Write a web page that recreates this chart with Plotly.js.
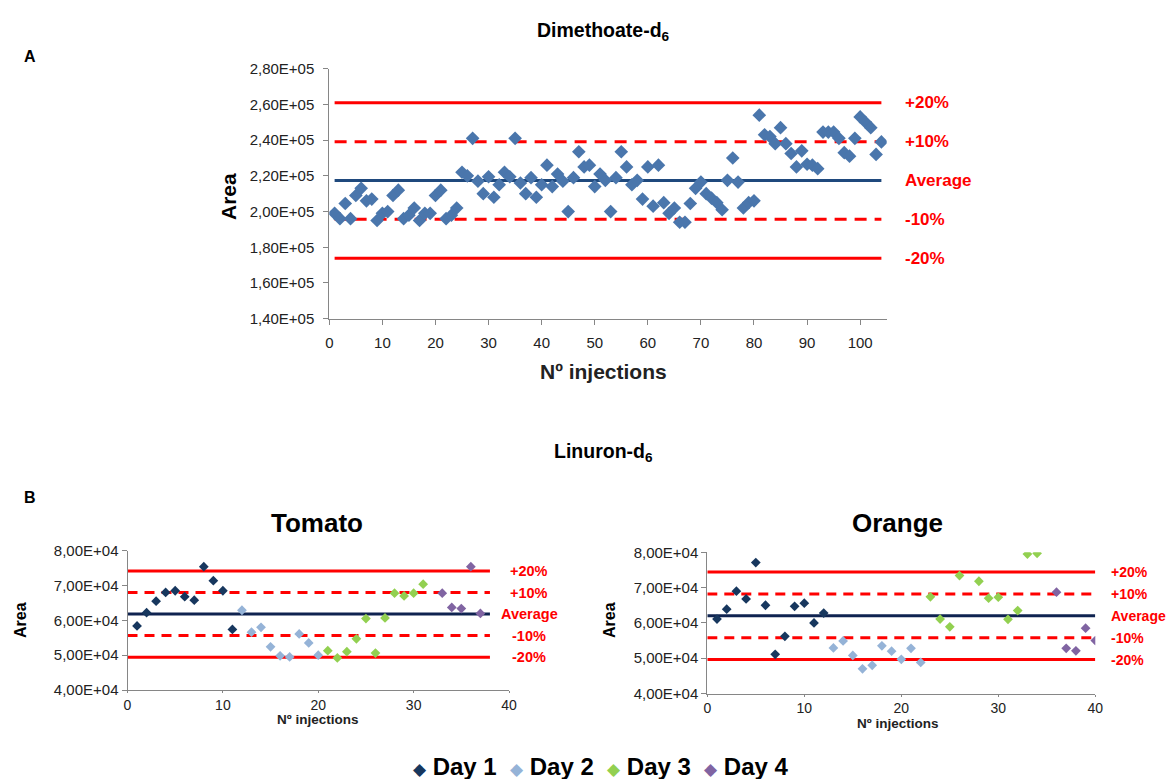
<!DOCTYPE html>
<html><head><meta charset="utf-8">
<script src="https://cdn.plot.ly/plotly-3.0.1.min.js"></script>
<style>html,body{margin:0;padding:0;background:#fff}</style>
</head><body><div id="chart" style="width:1169px;height:779px"></div>
<script>
// ---------- DATA ----------
// Panel A: Dimethoate-d6, area per injection (injections 1..104)
const dimArea = [
 199000,196000,204500,196000,209000,213000,206000,207000,195000,199000,
 200000,209000,212000,196000,198000,202000,195000,199000,199000,209000,
 212000,196000,198000,202000,222000,220000,241000,217000,210000,219500,
 208000,215000,222000,219500,241000,216000,210000,219000,208000,215000,
 226000,214000,221000,217000,200000,219000,233500,225000,226000,214000,
 221000,217500,200000,219000,233500,225000,215000,217500,207000,225000,
 203000,226000,205000,199000,202000,194000,194000,204500,213000,216500,
 210000,207500,205000,201000,217500,230000,216500,202000,205000,206000,
 254000,243000,242000,238000,247000,238000,232500,225000,234000,226500,
 226000,224000,244500,244500,244500,241000,233000,231000,241000,253000,
 250000,247000,232000,239000
];
const dimAverage = 217400;
const dimYTicks = [140000,160000,180000,200000,220000,240000,260000,280000];
const dimYTickText = ["1,40E+05","1,60E+05","1,80E+05","2,00E+05","2,20E+05","2,40E+05","2,60E+05","2,80E+05"];
const dimXTicks = [0,10,20,30,40,50,60,70,80,90,100];

// Limit lines (percent deviation from the average) and their labels
const limitPct = [20, 10, 0, -10, -20];
const limitLabels = ["+20%", "+10%", "Average", "-10%", "-20%"];

// Panel B: Linuron-d6
const days = ["Day 1", "Day 2", "Day 3", "Day 4"];
const dayColors = ["#17375E", "#95B3D7", "#92D050", "#8064A2"];

const tomatoX = [
  [1,2,3,4,5,6,7,8,9,10,11],
  [12,13,14,15,16,17,18,19,20],
  [21,22,23,24,25,26,27,28,29,30,31],
  [33,34,35,36,37]
];
const tomatoY = [
  [58400,62200,65500,68000,68500,66800,65800,75400,71400,68500,57400],
  [62900,56600,58000,52400,49800,49500,56100,53500,50000],
  [51300,49200,51000,54700,60500,50600,60700,67800,67000,67800,70400],
  [67800,63700,63400,75400,62000]
];
const tomatoAverage = 61800;

const orangeX = [
  [1,2,3,4,5,6,7,8,9,10,11,12],
  [13,14,15,16,17,18,19,20,21,22],
  [23,24,25,26,28,29,30,31,32,33,34],
  [36,37,38,39,40]
];
const orangeY = [
  [61100,63900,69000,66800,77100,65000,51100,56200,64700,65600,60000,62800],
  [52900,54900,50800,47000,48000,53500,52000,49700,52800,48800],
  [67400,61100,58900,73400,71800,67000,67300,61000,63500,79500,79700],
  [68700,52800,52100,58500,55000]
];
const orangeAverage = 62000;

const linYTicks = [40000,50000,60000,70000,80000];
const linYTickText = ["4,00E+04","5,00E+04","6,00E+04","7,00E+04","8,00E+04"];
const linXTicks = [0,10,20,30,40];

// ---------- LAYOUT HELPERS ----------
const W = 1169, H = 779;
const fx = p => p / W;
const fy = p => 1 - p / H;
const FONT = "Liberation Sans, Arial, sans-serif";
const RED = "#FF0000";
const AXC = "#868686";

const traces = [];
const annotations = [];

function limitLines(avg, x0, x1, xa, ya, avgColor, width, dash) {
  limitPct.forEach(p => {
    const v = avg * (1 + p / 100);
    traces.push({
      x: [x0, x1], y: [v, v], xaxis: xa, yaxis: ya, mode: "lines",
      line: {color: p === 0 ? avgColor : RED, width: width,
             dash: (Math.abs(p) === 10) ? dash : "solid"},
      hoverinfo: "skip", showlegend: false
    });
  });
}
function limitAnnots(avg, xPix, anchor, yr, size) {
  limitPct.forEach((p, i) => {
    annotations.push({
      xref: "paper", yref: yr, x: fx(xPix), y: avg * (1 + p / 100),
      xanchor: anchor, yanchor: "middle", showarrow: false,
      text: "<b>" + limitLabels[i] + "</b>",
      font: {family: FONT, size: size, color: RED}
    });
  });
}

// Panel A
limitLines(dimAverage, 1, 104, "x", "y", "#1F497D", 3, "12px,8px");
traces.push({
  x: dimArea.map((_, i) => i + 1), y: dimArea, xaxis: "x", yaxis: "y",
  mode: "markers", type: "scatter",
  marker: {symbol: "diamond", size: 10.5, color: "#4A76AC"},
  showlegend: false, name: "Dimethoate-d6"
});
limitAnnots(dimAverage, 903, "left", "y", 17);

// Panel B tomato
limitLines(tomatoAverage, 0, 38, "x2", "y2", "#0F2350", 3, "10px,7px");
days.forEach((d, k) => traces.push({
  x: tomatoX[k], y: tomatoY[k], xaxis: "x2", yaxis: "y2", mode: "markers",
  marker: {symbol: "diamond", size: 7.5, color: dayColors[k]},
  name: d, showlegend: false
}));
limitAnnots(tomatoAverage, 529, "center", "y2", 14.5);

// Panel B orange
limitLines(orangeAverage, 0, 40, "x3", "y3", "#0F2350", 3, "10px,7px");
days.forEach((d, k) => traces.push({
  x: orangeX[k], y: orangeY[k], xaxis: "x3", yaxis: "y3", mode: "markers",
  marker: {symbol: "diamond", size: 7.5, color: dayColors[k]},
  name: d, showlegend: false
}));
limitAnnots(orangeAverage, 1109, "left", "y3", 14);

// Titles & labels
function txt(x, y, text, size, angle, color) {
  annotations.push({xref: "paper", yref: "paper", x: fx(x), y: fy(y),
    xanchor: "center", yanchor: "middle", showarrow: false, textangle: angle || 0,
    text: text, font: {family: FONT, size: size, color: color || "#000"}});
}
txt(603, 31, "<b>Dimethoate-d<sub>6</sub></b>", 19.5);
txt(30, 57, "<b>A</b>", 16);
txt(603, 453, "<b>Linuron-d<sub>6</sub></b>", 19.5);
txt(30, 497, "<b>B</b>", 16);
txt(317, 523, "<b>Tomato</b>", 26);
txt(897, 523, "<b>Orange</b>", 26);

// Axis titles
txt(229, 197, "<b>Area</b>", 21, -90);
txt(603, 371, "<b>Nº injections</b>", 21, 0, "#222");
txt(20, 620, "<b>Area</b>", 16, -90);
txt(317, 719, "<b>Nº injections</b>", 13.5, 0, "#222");
txt(609, 620, "<b>Area</b>", 16, -90);
txt(897, 723, "<b>Nº injections</b>", 13.5, 0, "#222");

// Legend (shared by both Linuron panels)
const legendText = days.map((d, k) =>
  '<span style="color:' + dayColors[k] + ';font-size:17px">◆</span>&nbsp;<b>' + d + '</b>').join("&nbsp;&nbsp;");
txt(601, 766, legendText, 24);

function xAxis(domain, range, ticks, anchor, ticklen, standoff, fsize) {
  return {domain: domain, range: range, anchor: anchor, tickvals: ticks,
    showline: true, linecolor: AXC, linewidth: 1, ticks: "outside", ticklen: ticklen,
    tickcolor: AXC, showgrid: false, zeroline: false, ticklabelstandoff: standoff,
    tickfont: {family: FONT, size: fsize, color: "#222"},
    automargin: false, fixedrange: true};
}
function yAxis(domain, range, ticks, ticktext, anchor, standoff) {
  return {domain: domain, range: range, anchor: anchor, tickvals: ticks, ticktext: ticktext,
    showline: true, linecolor: AXC, linewidth: 1, ticks: "outside", ticklen: 5,
    tickcolor: AXC, showgrid: false, zeroline: false, ticklabelstandoff: standoff,
    tickfont: {family: FONT, size: 15, color: "#222"},
    automargin: false, fixedrange: true};
}

const layout = {
  width: W, height: H, margin: {l: 0, r: 0, t: 0, b: 0},
  paper_bgcolor: "#fff", plot_bgcolor: "rgba(0,0,0,0)",
  showlegend: false, font: {family: FONT},
  xaxis: xAxis([fx(329.3), fx(886.7)], [0, 105], dimXTicks, "y", 5, 5, 15),
  yaxis: yAxis([fy(318.7), fy(68.7)], [140000, 280000], dimYTicks, dimYTickText, "x", 6),
  xaxis2: xAxis([fx(127.5), fx(509)], [0, 40], linXTicks, "y2", 2, 0, 14),
  yaxis2: yAxis([fy(690), fy(550.7)], [40000, 80000], linYTicks, linYTickText, "x2", 0),
  xaxis3: xAxis([fx(707.3), fx(1095.3)], [0, 40], linXTicks, "y3", 2, 0, 14),
  yaxis3: yAxis([fy(693.5), fy(552.3)], [40000, 80000], linYTicks, linYTickText, "x3", 0),
  annotations: annotations
};

Plotly.newPlot("chart", traces, layout, {staticPlot: true, displayModeBar: false});
</script></body></html>
